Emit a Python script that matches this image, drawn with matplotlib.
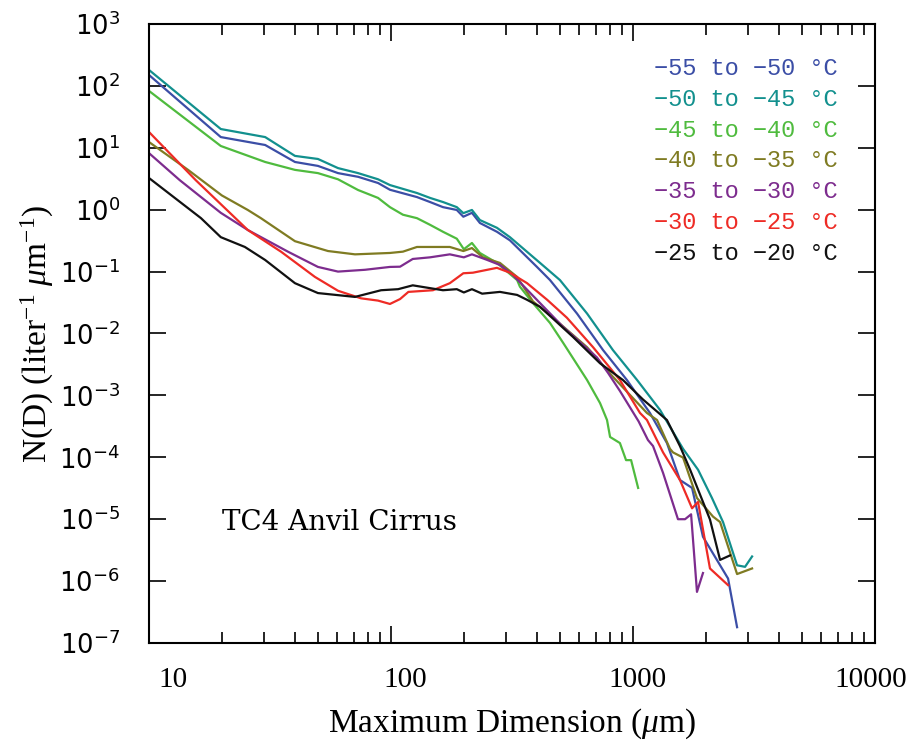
import numpy as np
import matplotlib.pyplot as plt
from matplotlib.ticker import NullFormatter
from matplotlib.transforms import ScaledTranslation

plt.rcParams["mathtext.fontset"] = "custom"
plt.rcParams["mathtext.rm"] = "Liberation Serif"
plt.rcParams["mathtext.it"] = "Liberation Serif:italic"
plt.rcParams["mathtext.sf"] = "DejaVu Sans"

# =========================================================
# DATA
# =========================================================
labels = ["\u221255 to \u221250 \u00b0C", "\u221250 to \u221245 \u00b0C",
          "\u221245 to \u221240 \u00b0C", "\u221240 to \u221235 \u00b0C",
          "\u221235 to \u221230 \u00b0C", "\u221230 to \u221225 \u00b0C",
          "\u221225 to \u221220 \u00b0C"]
colors = ["#3b4ea6", "#12908e", "#4fbb3e", "#7f7b22", "#7d2c8e", "#ee2b25", "#111111"]

d_55_50 = [10, 19.8, 30.2, 40.1, 49.9, 60.4, 73.1, 88.4, 99, 128, 145, 164, 187, 199, 216,
           233, 274, 310, 401, 454, 587, 752, 944, 1175, 1381, 1563, 1754, 1946, 2471, 2692]
n_55_50 = [150, 14.9, 11.1, 5.9, 5.1, 3.9, 3.4, 2.7, 2.1, 1.6, 1.33, 1.1, 0.99, 0.77, 0.89,
           0.61, 0.44, 0.32, 0.119, 0.073, 0.021, 0.0054, 0.00177, 0.00052, 0.00017, 4.3e-5,
           3.2e-5, 5.2e-6, 1.1e-6, 1.8e-7]

d_50_45 = [10, 19.8, 30.2, 40.1, 49.9, 60.4, 73.1, 88.4, 99, 128, 145, 164, 187, 199, 216,
           233, 274, 310, 413, 499, 646, 826, 1040, 1294, 1610, 1857, 2120, 2355, 2692, 2904, 3105]
n_50_45 = [181, 20.1, 14.9, 7.4, 6.6, 4.7, 3.9, 3.1, 2.5, 1.86, 1.55, 1.33, 1.1, 0.88, 0.99,
           0.68, 0.51, 0.36, 0.138, 0.073, 0.021, 0.0054, 0.00177, 0.00058, 0.000137, 6.3e-5,
           2.2e-5, 9e-6, 1.8e-6, 1.7e-6, 2.5e-6]

d_45_40 = [10, 19.8, 30.2, 40.1, 49.9, 60.4, 73.1, 88.4, 99, 112, 128, 145, 164, 187, 200,
           216, 233, 274, 332, 341, 386, 454, 514, 646, 731, 781, 804, 883, 936, 982, 1050]
n_45_40 = [83, 10.7, 5.9, 4.4, 3.9, 3.1, 2.08, 1.55, 1.1, 0.83, 0.73, 0.57, 0.44, 0.34, 0.23,
           0.29, 0.2, 0.138, 0.073, 0.057, 0.031, 0.0148, 0.0071, 0.00177, 0.00075, 0.0004,
           0.000213, 0.00017, 9e-5, 9e-5, 3.2e-5]

d_40_35 = [10, 14.5, 20, 25.6, 29, 40.1, 54.9, 71, 99, 112, 128, 175, 199, 216, 240, 282,
           332, 386, 467, 646, 826, 1142, 1257, 1422, 1463, 1610, 1838, 2142, 2290, 2692, 3105]
n_40_35 = [12.4, 4.4, 1.7, 0.99, 0.73, 0.31, 0.215, 0.19, 0.2, 0.21, 0.25, 0.25, 0.215, 0.24,
           0.17, 0.138, 0.082, 0.033, 0.018, 0.006, 0.002, 0.00052, 0.0004, 0.000137, 0.00012,
           9.9e-5, 2.2e-5, 1.1e-5, 9e-6, 1.3e-6, 1.6e-6]

d_35_30 = [10, 13.4, 19.8, 25.6, 37.5, 49.9, 60.4, 78.1, 99, 109, 123, 145, 175, 200, 216,
           249, 282, 319, 514, 710, 789, 883, 1055, 1153, 1210, 1331, 1534, 1641, 1738, 1838, 1946]
n_35_30 = [8.2, 3.0, 0.89, 0.47, 0.21, 0.119, 0.10, 0.107, 0.119, 0.12, 0.16, 0.17, 0.19, 0.17,
           0.19, 0.155, 0.128, 0.088, 0.0128, 0.0041, 0.0023, 0.00118, 0.00038, 0.00019,
           0.000152, 5.6e-5, 1.0e-5, 1.0e-5, 1.2e-5, 6.7e-7, 1.35e-6]

d_30_25 = [10, 15.6, 20.6, 25.6, 35.1, 48.5, 60.4, 75.2, 88.4, 99, 109, 118, 149, 175, 199,
           218, 274, 310, 365, 442, 533, 684, 883, 1069, 1142, 1331, 1563, 1754, 1857, 2080, 2471]
n_30_25 = [18, 3.0, 1.06, 0.47, 0.21, 0.082, 0.049, 0.037, 0.034, 0.030, 0.036, 0.047, 0.05,
           0.065, 0.094, 0.096, 0.115, 0.096, 0.065, 0.035, 0.018, 0.006, 0.00177, 0.00052,
           0.0004, 0.00012, 4.3e-5, 1.5e-5, 1.9e-5, 1.6e-6, 8.6e-7]

d_25_20 = [10, 16.4, 19.8, 24.9, 30.2, 40.1, 49.9, 71, 91, 107, 123, 141, 164, 187, 200, 216,
           238, 282, 332, 365, 413, 565, 731, 909, 1099, 1381, 1563, 1722, 2080, 2290, 2518]
n_25_20 = [3.25, 0.73, 0.36, 0.25, 0.154, 0.065, 0.045, 0.039, 0.050, 0.052, 0.06, 0.055, 0.05,
           0.052, 0.046, 0.052, 0.044, 0.047, 0.042, 0.035, 0.027, 0.0088, 0.0033, 0.00177,
           0.00086, 0.0004, 0.000152, 6.3e-5, 9.9e-6, 2.2e-6, 2.6e-6]

xticks = [10, 100, 1000, 10000]
xticklabels = ["10", "100", "1000", "10000"]
yexps = list(range(-7, 4))

series = [(d_55_50, n_55_50), (d_50_45, n_50_45), (d_45_40, n_45_40), (d_40_35, n_40_35),
          (d_35_30, n_35_30), (d_30_25, n_30_25), (d_25_20, n_25_20)]

# =========================================================
# PLOT
# =========================================================
fig = plt.figure(figsize=(9.2, 7.41), dpi=100)
ax = fig.add_axes([149 / 920, 1 - 643 / 741, 726 / 920, 619 / 741])

for (d, n), lab, c in zip(series, labels, colors):
    ax.plot(d, n, color=c, lw=1.6, label=lab)

ax.set_xscale("log")
ax.set_yscale("log")
ax.set_xlim(10, 10000)
ax.set_ylim(1e-7, 1e3)

ax.set_xticks(xticks, labels=xticklabels, fontsize=21, family="Liberation Serif")
ax.xaxis.set_minor_formatter(NullFormatter())
ax.set_yticks([10.0 ** e for e in yexps],
              labels=[f"$\\mathsf{{10^{{{e}}}}}$" for e in yexps], fontsize=18.5)
ax.yaxis.set_minor_formatter(NullFormatter())

ax.tick_params(which="both", direction="in", top=True, right=True, width=1.2)
ax.tick_params(which="major", length=12)
ax.tick_params(which="minor", length=8)
ax.tick_params(axis="x", pad=17)
ax.tick_params(axis="y", pad=21)
# labels of the original sit a bit right of their ticks, less so for longer ones
for lbl in ax.get_xticklabels():
    shift = (24 - 9.5 * (len(lbl.get_text()) - 2)) / 100
    lbl.set_transform(lbl.get_transform() + ScaledTranslation(shift, 0, fig.dpi_scale_trans))
for sp in ax.spines.values():
    sp.set_linewidth(1.5)

ax.set_xlabel("Maximum Dimension ($\\mu$m)", fontsize=24,
              family=["Liberation Serif", "DejaVu Serif"], labelpad=10)
ax.set_ylabel("N(D) (liter$^{-1}$ $\\mu$m$^{-1}$)", fontsize=24,
              family=["Liberation Serif", "DejaVu Serif"])
ax.yaxis.set_label_coords(-0.128, 0.5)

leg = ax.legend(loc="upper right", bbox_to_anchor=(0.978, 0.981), frameon=False,
                handlelength=0, handletextpad=0, labelcolor="linecolor",
                labelspacing=0.33, prop={"family": "Liberation Mono", "size": 17})
for h in leg.legend_handles:
    h.set_visible(False)

ax.text(0.1, 0.195, "TC4 Anvil Cirrus", transform=ax.transAxes, fontsize=20,
        family="DejaVu Serif", va="center", ha="left")

fig.savefig("out.png", dpi=100)
